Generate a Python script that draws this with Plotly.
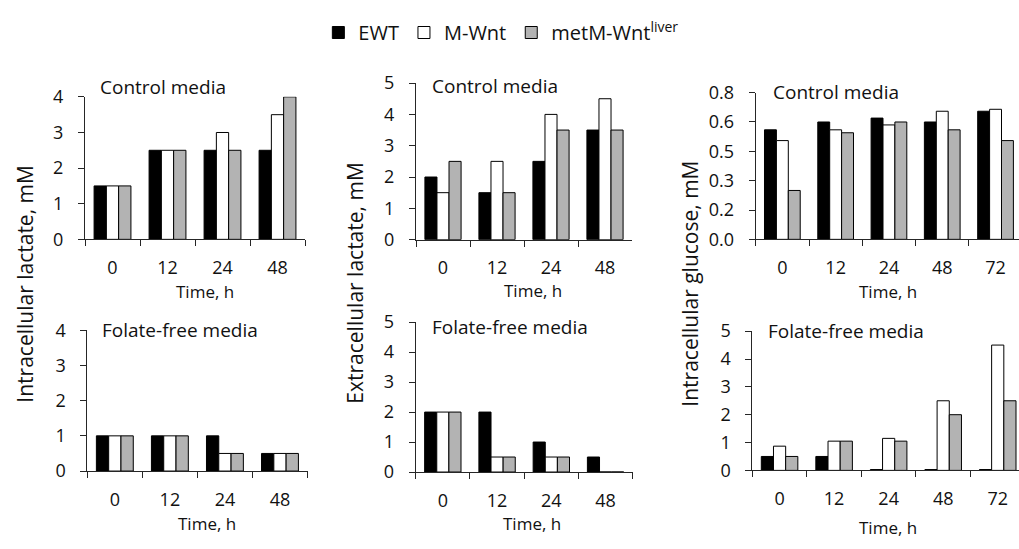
import plotly.graph_objects as go

W, H = 1019, 549

series_names = ["EWT", "M-Wnt", "metM-Wnt<sup>liver</sup>"]
series_colors = ["#000000", "#ffffff", "#b3b3b3"]

times4 = ["0", "12", "24", "48"]
times5 = ["0", "12", "24", "48", "72"]

# Intracellular lactate, control media
ilc_ewt = [1.5, 2.5, 2.5, 2.5]
ilc_mwnt = [1.5, 2.5, 3.0, 3.5]
ilc_met = [1.5, 2.5, 2.5, 4.0]
# Extracellular lactate, control media
elc_ewt = [2.0, 1.5, 2.5, 3.5]
elc_mwnt = [1.5, 2.5, 4.0, 4.5]
elc_met = [2.5, 1.5, 3.5, 3.5]
# Intracellular glucose, control media
igc_ewt = [0.56, 0.60, 0.62, 0.60, 0.655]
igc_mwnt = [0.505, 0.56, 0.585, 0.655, 0.665]
igc_met = [0.25, 0.545, 0.60, 0.56, 0.505]
# Intracellular lactate, folate-free media
ilf_ewt = [1.0, 1.0, 1.0, 0.5]
ilf_mwnt = [1.0, 1.0, 0.5, 0.5]
ilf_met = [1.0, 1.0, 0.5, 0.5]
# Extracellular lactate, folate-free media
elf_ewt = [2.0, 2.0, 1.0, 0.5]
elf_mwnt = [2.0, 0.5, 0.5, 0.0]
elf_met = [2.0, 0.5, 0.5, 0.0]
# Intracellular glucose, folate-free media
igf_ewt = [0.5, 0.5, 0.03, 0.03, 0.03]
igf_mwnt = [0.87, 1.05, 1.15, 2.5, 4.5]
igf_met = [0.5, 1.05, 1.05, 2.0, 2.5]

glu_ctrl_tickvals = [0, 0.15, 0.3, 0.45, 0.6, 0.75]
glu_ctrl_ticktext = ["0.0", "0.2", "0.3", "0.5", "0.6", "0.8"]

FONT = "Open Sans"

def px(x):
    return x / W

def py(y):
    return 1 - y / H

panels = [
    dict(cats=times4, data=[ilc_ewt, ilc_mwnt, ilc_met], xd=(85, 305), yd=(87.7, 236.7), yr=[0, 4], dt=1,
         title="Control media", tpos=(98, 77), tlab=(205, 291)),
    dict(cats=times4, data=[elc_ewt, elc_mwnt, elc_met], xd=(416, 632), yd=(73.3, 237), yr=[0, 5], dt=1,
         title="Control media", tpos=(430, 76), tlab=(533, 290)),
    dict(cats=times5, data=[igc_ewt, igc_mwnt, igc_met], xd=(755.7, 1019), yd=(83.3, 236.7), yr=[0, 0.75],
         tv=glu_ctrl_tickvals, tt=glu_ctrl_ticktext, xr=[-0.5, 4.44],
         title="Control media", tpos=(771, 83), tlab=(888, 291)),
    dict(cats=times4, data=[ilf_ewt, ilf_mwnt, ilf_met], xd=(87.3, 307.5), yd=(331.7, 479), yr=[0, 4], dt=1,
         title="Folate-free media", tpos=(100, 331), tlab=(207, 534)),
    dict(cats=times4, data=[elf_ewt, elf_mwnt, elf_met], xd=(415.7, 632.7), yd=(323.3, 480), yr=[0, 5], dt=1,
         title="Folate-free media", tpos=(430, 328), tlab=(532, 534)),
    dict(cats=times5, data=[igf_ewt, igf_mwnt, igf_met], xd=(752.3, 1019), yd=(332.7, 478.3), yr=[0, 5], dt=1,
         xr=[-0.5, 4.39],
         title="Folate-free media", tpos=(766, 333), tlab=(888, 538)),
]

fig = go.Figure()
annotations = []
AX = "#262626"
TXT = "#111111"

for i, p in enumerate(panels):
    n = "" if i == 0 else str(i + 1)
    for k in range(3):
        fig.add_trace(go.Bar(
            x=p["cats"], y=p["data"][k], name=series_names[k],
            marker=dict(color=series_colors[k], line=dict(color="#000000", width=1)),
            xaxis="x" + n, yaxis="y" + n, showlegend=(i == 0), legendgroup=str(k),
        ))
    xa = dict(domain=[px(p["xd"][0]), px(p["xd"][1])], anchor="y" + n, type="category",
              showline=True, linecolor=AX, linewidth=1, ticks="outside", tickson="boundaries",
              ticklen=6, tickcolor=AX, showgrid=False, zeroline=False,
              tickfont=dict(family=FONT, size=18, color=TXT), ticklabelstandoff=12,
              fixedrange=True)
    xa["range"] = p.get("xr", [-0.5, len(p["cats"]) - 0.5])
    ya = dict(domain=[py(p["yd"][1]), py(p["yd"][0])], anchor="x" + n, range=p["yr"],
              showline=True, linecolor=AX, linewidth=1, ticks="outside", ticklen=6, tickcolor=AX,
              showgrid=False, zeroline=False, tickfont=dict(family=FONT, size=18, color=TXT),
              ticklabelstandoff=11, fixedrange=True)
    if "tv" in p:
        ya["tickmode"] = "array"
        ya["tickvals"] = p["tv"]
        ya["ticktext"] = p["tt"]
    else:
        ya["dtick"] = p["dt"]
        ya["tick0"] = 0
    fig.layout["xaxis" + n] = xa
    fig.layout["yaxis" + n] = ya
    annotations.append(dict(text=p["title"], x=px(p["tpos"][0]), y=py(p["tpos"][1]), xref="paper", yref="paper",
                            xanchor="left", yanchor="middle", showarrow=False,
                            font=dict(family=FONT, size=19, color=TXT)))
    annotations.append(dict(text="Time, h", x=px(p["tlab"][0]), y=py(p["tlab"][1]), xref="paper", yref="paper",
                            xanchor="center", yanchor="middle", showarrow=False,
                            font=dict(family=FONT, size=17, color=TXT)))

ytitles = [("Intracellular lactate, mM", 25), ("Extracellular lactate, mM", 355), ("Intracellular glucose, mM", 690)]
for t, xp in ytitles:
    annotations.append(dict(text=t, x=px(xp), y=py(283), xref="paper", yref="paper", textangle=-90,
                            xanchor="center", yanchor="middle", showarrow=False,
                            font=dict(family=FONT, size=21, color=TXT)))

fig.update_layout(
    width=W, height=H, margin=dict(l=0, r=0, t=0, b=0),
    plot_bgcolor="white", paper_bgcolor="white",
    barmode="group", bargap=0.33, bargroupgap=0,
    annotations=annotations,
    legend=dict(orientation="h", x=0.492, xanchor="center", y=1.0, yanchor="top",
                font=dict(family=FONT, size=20, color=TXT), itemwidth=30, tracegroupgap=0,
                bgcolor="rgba(0,0,0,0)"),
)

fig.write_html("out.html", config={"displayModeBar": False},
               post_script="document.body.style.margin='0px';document.body.style.overflow='hidden';")
